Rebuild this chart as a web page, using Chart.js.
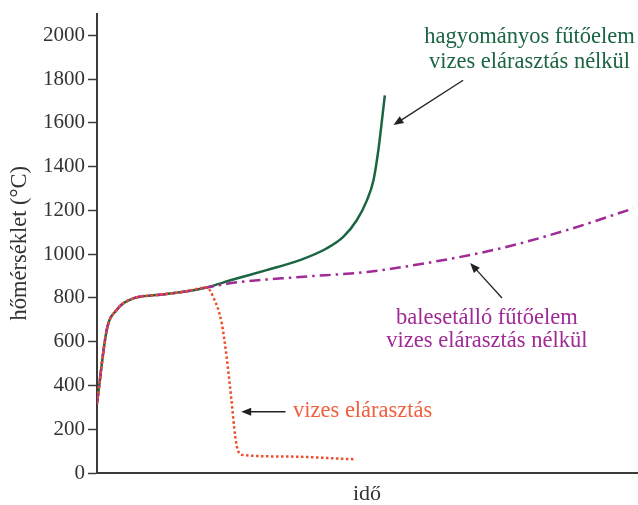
<!DOCTYPE html>
<html>
<head>
<meta charset="utf-8">
<script src="https://cdn.jsdelivr.net/npm/chart.js@4.4.0/dist/chart.umd.min.js"></script>
<style>
  html, body { margin: 0; padding: 0; background: #fff; }
  #wrap { width: 638px; height: 505px; }
</style>
</head>
<body>
<div id="wrap"><canvas id="chart"></canvas></div>
<script>
// idő (tetszőleges egység) és hőmérséklet (°C)
const hagyomanyosX = [0, 1.8, 3.6, 6.7, 11, 16, 20.3, 25.2, 31.4, 37.6, 42.5, 45.6, 48.1, 50, 51.2, 52.1, 52.7, 53.3];
const hagyomanyosY = [318, 653, 744, 798, 813, 828, 848, 884, 927, 973, 1026, 1079, 1155, 1247, 1338, 1475, 1597, 1726];

const balesetalloX = [0, 1.8, 3.6, 6.7, 11, 16, 20.3, 25.2, 37.6, 50, 62.3, 74.6, 87, 99.3];
const balesetalloY = [318, 653, 744, 798, 813, 828, 848, 869, 896, 919, 965, 1026, 1110, 1209];

const vizesX = [0, 1.8, 3.6, 6.7, 11, 16, 20.3, 21.5, 23.1, 24, 24.9, 25.6, 26.2, 27.1, 35.7, 47.5];
const vizesY = [318, 653, 744, 798, 813, 828, 848, 806, 684, 531, 333, 166, 97, 82, 75, 63];

const yTicks = [0, 200, 400, 600, 800, 1000, 1200, 1400, 1600, 1800, 2000];

const toPoints = (xs, ys) => xs.map((x, i) => ({ x: x, y: ys[i] }));

const serif = "'Liberation Serif', 'DejaVu Serif', serif";
const axisColor = "#3d3a3a";

// feliratok és nyilak a görbék mellett
const annotations = {
  id: "annotations",
  afterDatasetsDraw(chart) {
    const ctx = chart.ctx;
    const xs = chart.scales.x;
    const ys = chart.scales.y;
    const px = (v) => xs.getPixelForValue(v);
    const py = (v) => ys.getPixelForValue(v);

    const arrow = (x1, y1, x2, y2) => {
      const ang = Math.atan2(y2 - y1, x2 - x1);
      ctx.save();
      ctx.strokeStyle = "#222";
      ctx.fillStyle = "#222";
      ctx.lineWidth = 1.3;
      ctx.beginPath();
      ctx.moveTo(x1, y1);
      ctx.lineTo(x2 - 6 * Math.cos(ang), y2 - 6 * Math.sin(ang));
      ctx.stroke();
      ctx.beginPath();
      ctx.moveTo(x2, y2);
      ctx.lineTo(x2 - 10 * Math.cos(ang) + 4 * Math.sin(ang), y2 - 10 * Math.sin(ang) - 4 * Math.cos(ang));
      ctx.lineTo(x2 - 10 * Math.cos(ang) - 4 * Math.sin(ang), y2 - 10 * Math.sin(ang) + 4 * Math.cos(ang));
      ctx.closePath();
      ctx.fill();
      ctx.restore();
    };

    ctx.save();
    ctx.font = "22.5px " + serif;
    ctx.textBaseline = "middle";
    ctx.textAlign = "center";

    ctx.fillStyle = "#1b6542";
    ctx.fillText("hagyományos fűtőelem", px(80.1), py(1990));
    ctx.fillText("vizes elárasztás nélkül", px(80.1), py(1880));

    ctx.fillStyle = "#a02a96";
    ctx.fillText("balesetálló fűtőelem", px(72.2), py(708));
    ctx.fillText("vizes elárasztás nélkül", px(72.2), py(602));

    ctx.fillStyle = "#f0603f";
    ctx.textAlign = "left";
    ctx.fillText("vizes elárasztás", px(36.3), py(285));
    ctx.restore();

    arrow(px(67.8), py(1795), px(54.9), py(1590));
    arrow(px(75.0), py(800), px(69.1), py(960));
    arrow(px(34.9), py(280), px(26.7), py(280));
  },
};

new Chart(document.getElementById("chart"), {
  type: "line",
  data: {
    datasets: [
      {
        label: "hagyományos fűtőelem",
        data: toPoints(hagyomanyosX, hagyomanyosY),
        borderColor: "#1b6542",
        borderWidth: 2.5,
        order: 3,
      },
      {
        label: "balesetálló fűtőelem",
        data: toPoints(balesetalloX, balesetalloY),
        borderColor: "#a02a96",
        borderWidth: 2.5,
        borderDash: [11, 5, 2.5, 5],
        order: 2,
      },
      {
        label: "vizes elárasztás",
        data: toPoints(vizesX, vizesY),
        borderColor: "#f04e2a",
        borderWidth: 2.5,
        borderDash: [2.5, 2.5],
        order: 1,
      },
    ],
  },
  options: {
    responsive: true,
    maintainAspectRatio: false,
    animation: false,
    devicePixelRatio: 1,
    layout: { padding: { top: 13, right: 1, left: 0, bottom: 0 } },
    elements: {
      point: { radius: 0 },
      line: { cubicInterpolationMode: "monotone", fill: false },
    },
    plugins: {
      legend: { display: false },
      tooltip: { enabled: false },
    },
    scales: {
      x: {
        type: "linear",
        min: 0,
        max: 100,
        ticks: { display: false },
        grid: { display: false },
        border: { display: true, color: axisColor, width: 2 },
        title: {
          display: true,
          text: "idő",
          color: "#333",
          font: { family: serif, size: 22, lineHeight: 1 },
          padding: { top: 0, bottom: 0 },
        },
        afterFit(scale) {
          scale.height = 32;
        },
      },
      y: {
        min: 0,
        max: 2100,
        ticks: {
          stepSize: 200,
          color: "#333",
          padding: 3,
          font: { family: serif, size: 21, lineHeight: 1 },
          callback: (v) => String(v),
        },
        afterBuildTicks(scale) {
          scale.ticks = yTicks.map((v) => ({ value: v }));
        },
        grid: {
          display: true,
          drawOnChartArea: false,
          drawTicks: true,
          tickLength: 9,
          tickColor: axisColor,
          tickWidth: 1.5,
        },
        border: { display: true, color: axisColor, width: 2 },
        title: {
          display: true,
          text: "hőmérséklet (°C)",
          color: "#333",
          font: { family: serif, size: 22.5, lineHeight: 1 },
          padding: { top: 9, bottom: 0 },
        },
        afterFit(scale) {
          scale.width = 97;
        },
      },
    },
  },
  plugins: [annotations],
});
</script>
</body>
</html>
